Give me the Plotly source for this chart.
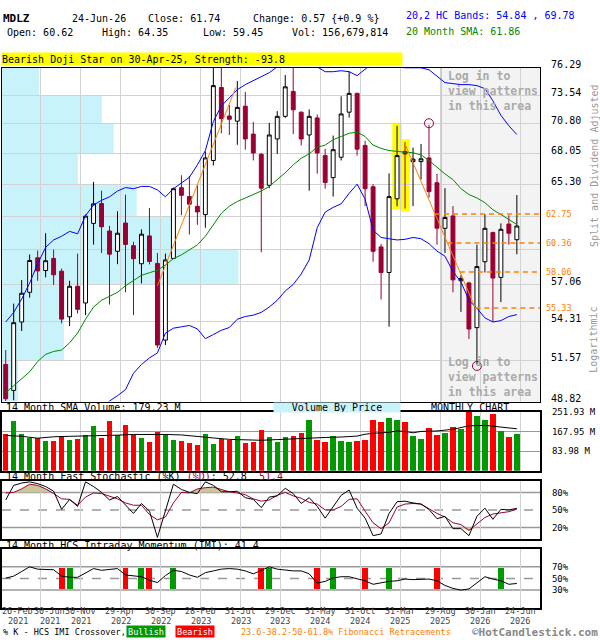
import math
import plotly.graph_objects as go

# Monthly MDLZ candles, Feb-2021 .. Jun-2026 (index 0 .. 64)
opens = [51.30, 49.55, 54.30, 56.50, 59.17, 58.17, 59.12, 58.12, 54.68, 56.96,
         55.70, 61.96, 63.63, 61.33, 59.69, 61.99, 60.14, 58.70, 60.93, 58.73,
         53.00, 59.12, 64.99, 64.22, 63.39, 62.69, 67.40, 74.31, 71.53, 71.04,
         72.48, 69.82, 67.96, 65.20, 69.37, 71.50, 73.92, 71.90, 69.74, 71.35,
         67.84, 65.87, 67.69, 71.90, 73.73, 68.77, 65.07, 60.04, 58.02, 64.03,
         68.22, 67.29, 67.30, 67.63, 65.42, 61.55, 62.58, 57.38, 57.21, 53.89,
         58.86, 61.20, 57.64, 61.90, 60.62]
highs = [52.30, 55.65, 57.43, 59.43, 59.75, 61.15, 59.82, 58.32, 57.38, 59.50,
         62.70, 65.50, 64.73, 61.76, 62.97, 64.39, 60.45, 61.47, 63.25, 59.56,
         59.50, 65.00, 66.08, 66.02, 65.20, 68.22, 76.30, 76.30, 72.60, 74.96,
         73.88, 70.97, 68.08, 70.88, 72.00, 75.56, 76.30, 71.96, 72.16, 71.68,
         68.46, 69.68, 73.44, 75.96, 73.80, 69.20, 65.30, 60.28, 66.25, 70.60,
         69.07, 68.57, 68.90, 70.70, 66.22, 64.95, 63.41, 57.81, 57.31, 60.22,
         62.72, 61.28, 61.96, 62.64, 64.35]
lows = [48.85, 48.90, 53.65, 56.10, 57.38, 57.64, 57.06, 54.20, 54.01, 54.92,
        54.80, 60.22, 59.56, 55.58, 58.67, 56.50, 54.80, 57.18, 58.65, 52.45,
        52.65, 59.10, 62.64, 61.04, 61.84, 61.60, 66.96, 69.90, 69.74, 68.83,
        68.38, 67.40, 59.61, 64.95, 67.99, 71.35, 69.82, 68.77, 64.73, 66.22,
        64.90, 64.22, 67.40, 71.38, 67.84, 63.41, 58.86, 55.96, 53.96, 63.39,
        63.20, 63.41, 65.70, 64.12, 60.22, 59.56, 56.50, 55.04, 53.08, 51.30,
        58.02, 54.30, 55.77, 60.22, 59.45]
closes = [49.00, 54.25, 56.43, 58.96, 58.14, 58.94, 57.84, 54.51, 56.96, 55.23,
          62.56, 63.60, 61.68, 59.46, 61.15, 60.24, 59.10, 61.07, 58.88, 52.65,
          59.00, 64.90, 64.33, 63.57, 62.92, 67.63, 74.50, 71.28, 71.22, 72.36,
          69.37, 68.08, 64.95, 69.74, 71.50, 74.38, 72.13, 69.37, 71.50, 68.08,
          65.44, 68.38, 71.73, 73.73, 68.43, 64.90, 59.69, 58.02, 64.22, 67.84,
          67.99, 67.52, 67.55, 64.65, 61.56, 62.45, 57.45, 57.56, 53.79, 58.48,
          61.55, 57.59, 61.47, 61.15, 61.74]
# monthly volume, millions of shares
volumes = [156.8, 214.1, 159.6, 140.0, 140.0, 126.0, 126.0, 149.8, 130.0, 134.4,
           155.4, 193.0, 142.8, 214.0, 152.5, 197.3, 152.5, 138.6, 121.8, 165.0,
           156.8, 131.6, 128.1, 118.2, 109.8, 156.2, 114.0, 135.1, 130.9, 147.8,
           118.2, 122.4, 173.1, 143.6, 122.4, 143.6, 147.8, 160.4, 219.6, 130.9,
           122.4, 147.8, 126.7, 122.4, 128.1, 132.3, 216.9, 208.5, 225.3, 216.9,
           208.5, 149.8, 137.2, 183.4, 154.0, 162.4, 187.6, 179.2, 251.9, 233.7,
           216.9, 242.1, 170.8, 145.6, 156.7]
vol_sma_idx = [0, 2, 4, 6, 8, 10, 12, 14, 16, 18, 20, 22, 24, 26, 28, 30, 32, 34,
               36, 38, 40, 42, 44, 45, 46, 48, 49, 50, 51, 52, 54, 56, 58, 60, 62, 64]
vol_sma = [151, 147, 139, 145, 147, 148, 150, 152, 155, 156, 155, 153, 148, 140,
           134, 131, 130, 133, 137, 140, 142, 144, 148, 156, 160, 164, 170, 168,
           162, 168, 170, 177, 192, 194, 188, 179.23]

sma20 = [49.4, 49.85, 50.3, 50.8, 51.5, 52.0, 52.2, 52.3, 52.8, 53.5,
         54.5, 55.4, 55.9, 56.2, 56.5, 57.0, 57.4, 57.8, 58.0, 58.2,
         58.6, 59.1, 59.4, 59.8, 60.2, 60.9, 61.9, 62.8, 63.4, 63.8,
         64.1, 64.4, 64.7, 65.1, 65.7, 66.3, 67.0, 67.6, 68.0, 68.6,
         68.8, 69.3, 69.6, 69.9, 70.0, 69.6, 68.8, 68.5, 68.3, 68.2,
         68.15, 68.1, 67.9, 67.4, 66.8, 66.2, 65.7, 64.9, 64.4, 64.1,
         63.7, 63.1, 62.7, 62.3, 61.86]
bb_upper = [54.3, 55.0, 56.0, 57.2, 58.7, 60.0, 60.6, 60.9, 61.3, 61.1,
            62.6, 63.5, 63.9, 64.2, 64.7, 65.0, 64.9, 65.1, 65.1, 64.8,
            64.2, 64.9, 65.4, 65.9, 67.0, 68.3, 71.0, 72.5, 73.3, 74.1,
            74.6, 75.0, 75.4, 75.8, 76.4, 77.2, 77.8, 77.9, 77.3, 76.4,
            75.9, 75.9, 76.0, 75.9, 75.5, 76.1, 76.8, 77.0, 76.8, 76.4,
            76.3, 76.3, 76.3, 76.1, 75.4, 74.8, 74.7, 74.6, 74.6, 74.5,
            74.2, 73.0, 71.6, 70.6, 69.78]
bb_lower_start = 12
bb_lower = [48.4, 48.85, 49.2, 49.6, 50.7, 51.3, 51.75, 52.1, 53.5, 53.85,
            53.95, 54.05, 53.8, 53.1, 53.4, 53.7, 53.9, 54.5, 54.7, 54.8,
            55.0, 55.4, 55.9, 56.6, 57.1, 57.9, 59.0, 61.6, 62.9, 63.3,
            63.6, 64.5, 65.3, 64.0, 61.4, 60.8, 60.7, 60.6, 60.65, 60.8,
            60.7, 60.3, 59.7, 59.3, 58.1, 57.3, 55.9, 55.3, 54.6, 54.3,
            54.4, 54.7, 54.84]

stoch_k = [67, 92, 96, 98, 95, 90, 82, 51, 68, 56,
           98, 90, 80, 67, 73, 58, 44, 61, 48, 3,
           50, 94, 85, 80, 78, 98, 92, 81, 81, 82,
           71, 68, 54, 72, 74, 87, 78, 61, 71, 56,
           36, 56, 75, 84, 53, 36, 6, 9, 44, 64,
           65, 62, 60, 51, 35, 39, 18, 18, 6, 39,
           53, 34, 51, 50, 52.8]
stoch_d = [79, 80, 86, 94, 92, 86, 78, 69, 68, 58,
           72, 79, 78, 74, 69, 62, 58, 58, 42, 33,
           38, 62, 80, 79, 86, 88, 89, 85, 81, 79,
           76, 69, 65, 67, 75, 80, 74, 70, 63, 60,
           50, 50, 56, 68, 69, 48, 28, 18, 28, 55,
           60, 61, 60, 52, 44, 38, 28, 25, 15, 26,
           37, 43, 45, 47, 51.4]
imi = [50.6, 54, 62, 70, 66, 66, 65, 54, 52, 52,
       60, 67, 64, 65, 67, 56, 54, 53, 47, 43,
       55, 64, 62, 56, 52, 60, 63, 66, 67, 66,
       63, 58, 64, 70, 66, 64, 63, 63, 58, 42,
       45, 51, 53, 53, 50, 46, 40, 43, 45, 46,
       49, 48, 48, 49, 46, 38, 33, 30, 32, 42,
       53, 49, 46, 40, 41.4]
imi_bullish = [8, 17, 21, 33, 41, 48, 62]
imi_bearish = [7, 15, 18, 32, 39, 45, 54]

price_levels = [48.82, 51.57, 54.31, 57.06, 59.80, 62.55, 65.30, 68.05, 70.80, 73.54, 76.29]
price_labels = ["48.82", "51.57", "54.31", "57.06", "", "", "65.30", "68.05", "70.80", "73.54", "76.29"]
vbp = [16, 62, 62, 237, 172, 135, 76, 112, 100, 37]   # volume by price, per price band

fib_levels = [62.75, 60.36, 58.06, 55.33]
trend_up_x, trend_up_y = [19, 28.8], [57.0, 74.3]
trend_dn_x, trend_dn_y = [50, 58.8], [68.9, 55.33]
pattern_idx = [49, 50]
circle_high_idx, circle_low_idx = 53, 59

tick_idx = [0, 4, 9, 14, 19, 24, 29, 34, 39, 44, 49, 54, 59, 64]
tick_day = ["26-Feb", "30-Jun", "30-Nov", "29-Apr", "30-Sep", "28-Feb", "31-Jul",
            "29-Dec", "31-May", "31-Oct", "31-Mar", "29-Aug", "30-Jan", "24-Jun"]
tick_year = ["2021", "2021", "2021", "2022", "2022", "2023", "2023",
             "2023", "2024", "2024", "2025", "2025", "2026", "2026"]

# ---- layout helpers (pixel positions of the 600x640 page) ----
W, H = 600, 640
MONO = "DejaVu Sans Mono"
MAROON, RED, GREEN, ORANGE = "#990033", "#ff0000", "#009900", "#ff8000"
CYAN, GRID = "#c9f3fb", "#d2d2d2"
X0, X1 = -0.4625, 66.91        # index range covering the plot box
n = len(closes)
idx = list(range(n))


def fx(px):
    return px / W


def fy(py):
    return 1 - py / H


xdom = [fx(1), fx(540)]
grid_x = [i + 0.4 for i in tick_idx[1:]]

fig = go.Figure()

fig.add_trace(go.Scatter(x=idx, y=bb_upper, mode="lines", line=dict(color="#0000ff", width=1)))
fig.add_trace(go.Scatter(x=idx[bb_lower_start:], y=bb_lower, mode="lines",
                         line=dict(color="#0000ff", width=1)))
fig.add_trace(go.Scatter(x=idx, y=sma20, mode="lines", line=dict(color="#008800", width=1)))
fig.add_trace(go.Scatter(x=trend_up_x, y=trend_up_y, mode="lines", line=dict(color=ORANGE, width=1)))
fig.add_trace(go.Scatter(x=trend_dn_x, y=trend_dn_y, mode="lines", line=dict(color=ORANGE, width=1)))

# fibonacci retracement lines start where the falling trend line crosses them
la, lb = math.log(trend_dn_y[0]), math.log(trend_dn_y[1])
for f in fib_levels:
    t = (la - math.log(f)) / (la - lb)
    xs = trend_dn_x[0] + t * (trend_dn_x[1] - trend_dn_x[0])
    fig.add_trace(go.Scatter(x=[xs, X1], y=[f, f], mode="lines",
                             line=dict(color=ORANGE, width=1.5, dash="5px,4px")))

fig.add_trace(go.Candlestick(
    x=idx, open=opens, high=highs, low=lows, close=closes, whiskerwidth=0,
    increasing=dict(line=dict(color="black", width=1), fillcolor="white"),
    decreasing=dict(line=dict(color=MAROON, width=1), fillcolor=MAROON)))

fig.add_trace(go.Scatter(x=[circle_high_idx, circle_low_idx],
                         y=[highs[circle_high_idx] * 1.002, lows[circle_low_idx] / 1.002],
                         mode="markers",
                         marker=dict(symbol="circle-open", size=9, color=MAROON, line=dict(width=1))))

# volume panel
vol_colors = [GREEN if c >= o else RED for o, c in zip(opens, closes)]
fig.add_trace(go.Bar(x=idx, y=volumes, width=0.68, marker=dict(color=vol_colors, line=dict(width=0)),
                     xaxis="x2", yaxis="y2"))
fig.add_trace(go.Scatter(x=vol_sma_idx, y=vol_sma, mode="lines", line=dict(color="black", width=1),
                         xaxis="x2", yaxis="y2"))

# stochastic panel, shaded where %D is beyond the 80/20 bands
fig.add_trace(go.Scatter(x=idx, y=[80] * n, mode="lines", line=dict(width=0), xaxis="x3", yaxis="y3"))
fig.add_trace(go.Scatter(x=idx, y=[max(d, 80) for d in stoch_d], mode="lines", line=dict(width=0),
                         fill="tonexty", fillcolor="#cbc69a", xaxis="x3", yaxis="y3"))
fig.add_trace(go.Scatter(x=idx, y=[20] * n, mode="lines", line=dict(width=0), xaxis="x3", yaxis="y3"))
fig.add_trace(go.Scatter(x=idx, y=[min(d, 20) for d in stoch_d], mode="lines", line=dict(width=0),
                         fill="tonexty", fillcolor="#cbc69a", xaxis="x3", yaxis="y3"))
fig.add_trace(go.Scatter(x=idx, y=stoch_d, mode="lines", line=dict(color=MAROON, width=1),
                         xaxis="x3", yaxis="y3"))
fig.add_trace(go.Scatter(x=idx, y=stoch_k, mode="lines", line=dict(color="black", width=1),
                         xaxis="x3", yaxis="y3"))

# IMI panel
fig.add_trace(go.Bar(x=imi_bearish, y=[36] * len(imi_bearish), base=32, width=0.75,
                     marker=dict(color=RED, line=dict(width=0)), xaxis="x4", yaxis="y4"))
fig.add_trace(go.Bar(x=imi_bullish, y=[36] * len(imi_bullish), base=32, width=0.75,
                     marker=dict(color=GREEN, line=dict(width=0)), xaxis="x4", yaxis="y4"))
fig.add_trace(go.Scatter(x=idx, y=imi, mode="lines", line=dict(color="black", width=1),
                         xaxis="x4", yaxis="y4"))


def xax(anchor, lw):
    return dict(domain=xdom, range=[X0, X1], anchor=anchor, tickvals=grid_x, showticklabels=False,
                showgrid=True, gridcolor=GRID, gridwidth=1, zeroline=False, ticks="",
                showline=True, mirror=True, linecolor="black", linewidth=lw)


def yax(dom, rng, vals, text, lw, grid=True, gridcolor="#999999"):
    return dict(domain=dom, range=rng, side="right", tickvals=vals, ticktext=text, ticks="",
                showgrid=grid, gridcolor=gridcolor, zeroline=False, showline=True, mirror=True,
                linecolor="black", linewidth=lw, ticklabelstandoff=8,
                tickfont=dict(family=MONO, size=9, color="black"))


main_y = yax([fy(400), fy(60)], [math.log10(price_levels[0]), math.log10(price_levels[-1])],
             price_levels, price_labels, 1, True, GRID)
main_y.update(type="log", ticklabelshift=-3, tickfont=dict(family=MONO, size=10, color="black"))

# background marks under the candles: locked pattern area, volume by price, pattern highlight
shapes = [dict(type="rect", xref="x", yref="y domain", x0=54.5, x1=X1, y0=0, y1=1,
               fillcolor="#f3f3f3", line=dict(width=0), layer="below"),
          dict(type="line", xref="x", yref="y domain", x0=54.5, x1=54.5, y0=0, y1=1,
               line=dict(color="#999999", width=1), layer="below")]
for k, v in enumerate(vbp):
    shapes.append(dict(type="rect", xref="x", yref="y", x0=X0, x1=X0 + v * (X1 - X0) / 539,
                       y0=price_levels[k], y1=price_levels[k + 1], fillcolor=CYAN,
                       line=dict(width=0), layer="below"))
for i in pattern_idx:
    shapes.append(dict(type="rect", xref="x", yref="y", x0=i - 0.6, x1=i + 0.6,
                       y0=lows[i] / 1.004, y1=highs[i] * 1.004, fillcolor="#ffff00",
                       line=dict(width=0), layer="below"))
for ax, levels in (("y3", (20, 50, 80)), ("y4", (30, 50, 70))):
    for lv in levels:
        shapes.append(dict(type="line", xref=ax.replace("y", "x") + " domain", yref=ax,
                           x0=0, x1=1, y0=lv, y1=lv, layer="below",
                           line=dict(color="#999999", width=1.5, dash="dash" if lv == 50 else "solid")))

fig.update_layout(
    width=W, height=H, margin=dict(l=0, r=0, t=0, b=0), showlegend=False,
    paper_bgcolor="white", plot_bgcolor="rgba(0,0,0,0)", bargap=0,
    xaxis=dict(xax("y", 1), rangeslider=dict(visible=False)),
    yaxis=main_y,
    xaxis2=xax("y2", 2),
    yaxis2=yax([fy(470.5), fy(410.5)], [0, 251.93], [83.98, 167.95, 251.93],
               ["83.98 M", "167.95 M", "251.93 M"], 2),
    xaxis3=xax("y3", 2),
    yaxis3=yax([fy(540.3), fy(480.7)], [0, 100], [20, 50, 80], ["20%", "50%", "80%"], 2, False),
    xaxis4=xax("y4", 2),
    yaxis4=yax([fy(610), fy(550.7)], [0, 100], [30, 50, 70], ["30%", "50%", "70%"], 2, False),
    shapes=shapes,
)


def note(text, px, py, size=10, color="black", **kw):
    fig.add_annotation(text=text, x=fx(px), y=fy(py), xref="paper", yref="paper",
                       xanchor=kw.pop("xanchor", "left"), yanchor=kw.pop("yanchor", "middle"),
                       showarrow=False, font=dict(family=MONO, size=size, color=color), **kw)


# header
note("<b>MDLZ</b>", 0, 9.5, 11)
note("24-Jun-26", 69, 9.5)
note("Close: 61.74", 145, 9.5)
note("Change: 0.57 {+0.9 %}", 250, 9.5)
note("20,2 HC Bands: 54.84 , 69.78", 404, 7, color="#0000ff")
note("Open: 60.62", 4.5, 24)
note("High: 64.35", 99.5, 24)
note("Low: 59.45", 200, 24)
note("Vol: 156,679,814", 289, 24)
note("20 Month SMA: 61.86", 404, 22.5, color="#008800")
note("Bearish Doji Star on 30-Apr-25, Strength: -93.8", 0, 51, bgcolor="#ffff00",
     width=400, height=12, align="left", borderpad=0)

# locked pattern area
for py in (59, 351):
    note("<b>Log in to<br>view patterns<br>in this area</b>", 446, py, 11.5, "#aaaaaa",
         yanchor="top", align="left")

# fibonacci labels
for f in fib_levels:
    fig.add_annotation(text=f"{f:.2f}", x=fx(544), y=math.log10(f), xref="paper", yref="y",
                       xanchor="left", yanchor="middle", showarrow=False,
                       font=dict(family=MONO, size=8.5, color=ORANGE))

note("Split and Dividend Adjusted", 594, 160, 10, "#999999", xanchor="center", textangle=-90)
note("Logarithmic", 594, 337, 10, "#999999", xanchor="center", textangle=-90)

# panel titles
note("14 Month SMA Volume: 179.23 M", 3, 406)
note("Volume By Price", 337, 406, xanchor="center", bgcolor=CYAN, width=126, height=9, borderpad=0)
note("MONTHLY CHART", 429, 406)
note("14 Month Fast Stochastic (%K) <span style='color:#990033'>(%D)</span>: 52.8  "
     "<span style='color:#990033'>51.4</span>", 3, 476.5)
note("14 Month HCS Intraday Momentum (IMI): 41.4", 3, 546.5)

# date labels under the bottom panel (first two nudged apart, as on the original)
label_x = [1.5, 5.5] + [i + 0.4 for i in tick_idx[2:]]
for lx, day, yr in zip(label_x, tick_day, tick_year):
    for txt, py in ((day, 614), (yr, 623.5)):
        fig.add_annotation(text=txt, x=lx, y=fy(py), xref="x4", yref="paper", xanchor="center",
                           yanchor="middle", showarrow=False, borderpad=0,
                           font=dict(family=MONO, size=8.5, color="#444444"))

# footer
note("% K - HCS IMI Crossover,", 0, 634.5, 8.5)
note("Bullish", 145, 634.5, 8.5, "white", xanchor="center", bgcolor=GREEN, width=38, height=11, borderpad=0)
note("Bearish", 194, 634.5, 8.5, "white", xanchor="center", bgcolor=RED, width=38, height=11, borderpad=0)
note("23.6-38.2-50-61.8% Fibonacci Retracements", 238, 634.5, 8.5, ORANGE)
note("<b>©HotCandlestick.com</b>", 600, 635, 11, "#888888", xanchor="right")

page_fix = ("document.documentElement.style.margin='0';document.body.style.margin='0';"
            "document.body.style.overflow='hidden';"
            "var d=document.getElementById('{plot_id}');"
            "d.style.position='fixed';d.style.left='0px';d.style.top='0px';")
fig.write_html("out.html", config={"displayModeBar": False}, post_script=page_fix)
